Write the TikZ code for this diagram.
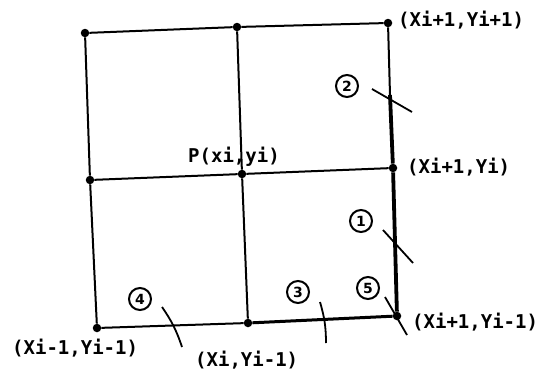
\documentclass[tikz,border=0pt]{standalone}
\usepackage{fontspec}
\newfontfamily\labfont{DejaVu Sans Mono}
\newfontfamily\numfont{DejaVu Sans}
\begin{document}
\begin{tikzpicture}[x=1pt,y=-1pt,
  gridline/.style={line width=2pt},
  heavy/.style={line width=3.8pt},
  vtx/.style={circle,fill,inner sep=0pt,minimum size=8.5pt},
  lbl/.style={font=\labfont\bfseries\fontsize{19}{21}\selectfont,inner sep=0pt,anchor=west},
  num/.style={circle,draw,line width=2pt,minimum size=22pt,inner sep=0pt,font=\numfont\bfseries\fontsize{14}{14}\selectfont},
  tickline/.style={line width=1.8pt}]
\useasboundingbox (0,0) rectangle (546,372);
% grid vertices
\node[vtx] (tl) at (85,33) {};
\node[vtx] (tm) at (237,27) {};
\node[vtx] (tr) at (388,23) {};
\node[vtx] (ml) at (90,180) {};
\node[vtx] (mm) at (242,174) {};
\node[vtx] (mr) at (393,168) {};
\node[vtx] (bl) at (97,328) {};
\node[vtx] (bm) at (248,323) {};
\node[vtx] (br) at (397,316) {};
\coordinate (hv) at (390,95);
% grid lines
\draw[gridline] (tl) -- (tm) -- (tr);
\draw[gridline] (ml) -- (mm) -- (mr);
\draw[gridline] (bl) -- (bm);
\draw[gridline] (tl) -- (ml) -- (bl);
\draw[gridline] (tm) -- (mm) -- (bm);
\draw[gridline] (tr) -- (hv);
\draw[heavy] (hv) -- (mr) -- (br);
\draw[line width=3pt] (bm) -- (br);
% numbered circles
\node[num] (n2) at (347,86) {2};
\node[num] (n1) at (361,221) {1};
\node[num] (n5) at (368,288) {5};
\node[num] (n3) at (298,292) {3};
\node[num] (n4) at (140,299) {4};
% tick marks
\coordinate (t2a) at (372,89);  \coordinate (t2b) at (412,112);
\coordinate (t1a) at (383,230); \coordinate (t1b) at (413,263);
\coordinate (t5a) at (385,297); \coordinate (t5b) at (407,335);
\coordinate (t3a) at (320,302); \coordinate (t3b) at (326,343);
\coordinate (t4a) at (162,307); \coordinate (t4b) at (182,347);
\draw[tickline] (t2a) -- (t2b);
\draw[tickline] (t1a) -- (t1b);
\draw[tickline] (t5a) -- (t5b);
\draw[tickline] (t3a) to[bend left=8] (t3b);
\draw[tickline] (t4a) to[bend left=8] (t4b);
% labels
\node[lbl] (l1) at (398,20) {(Xi+1,Yi+1)};
\node[lbl] (l2) at (407,167) {(Xi+1,Yi)};
\node[lbl] (l3) at (412,322) {(Xi+1,Yi-1)};
\node[lbl] (l4) at (12,348) {(Xi-1,Yi-1)};
\node[lbl] (l5) at (195,360) {(Xi,Yi-1)};
\node[lbl] (l6) at (188,157) {P(xi,yi)};
\end{tikzpicture}
\end{document}
